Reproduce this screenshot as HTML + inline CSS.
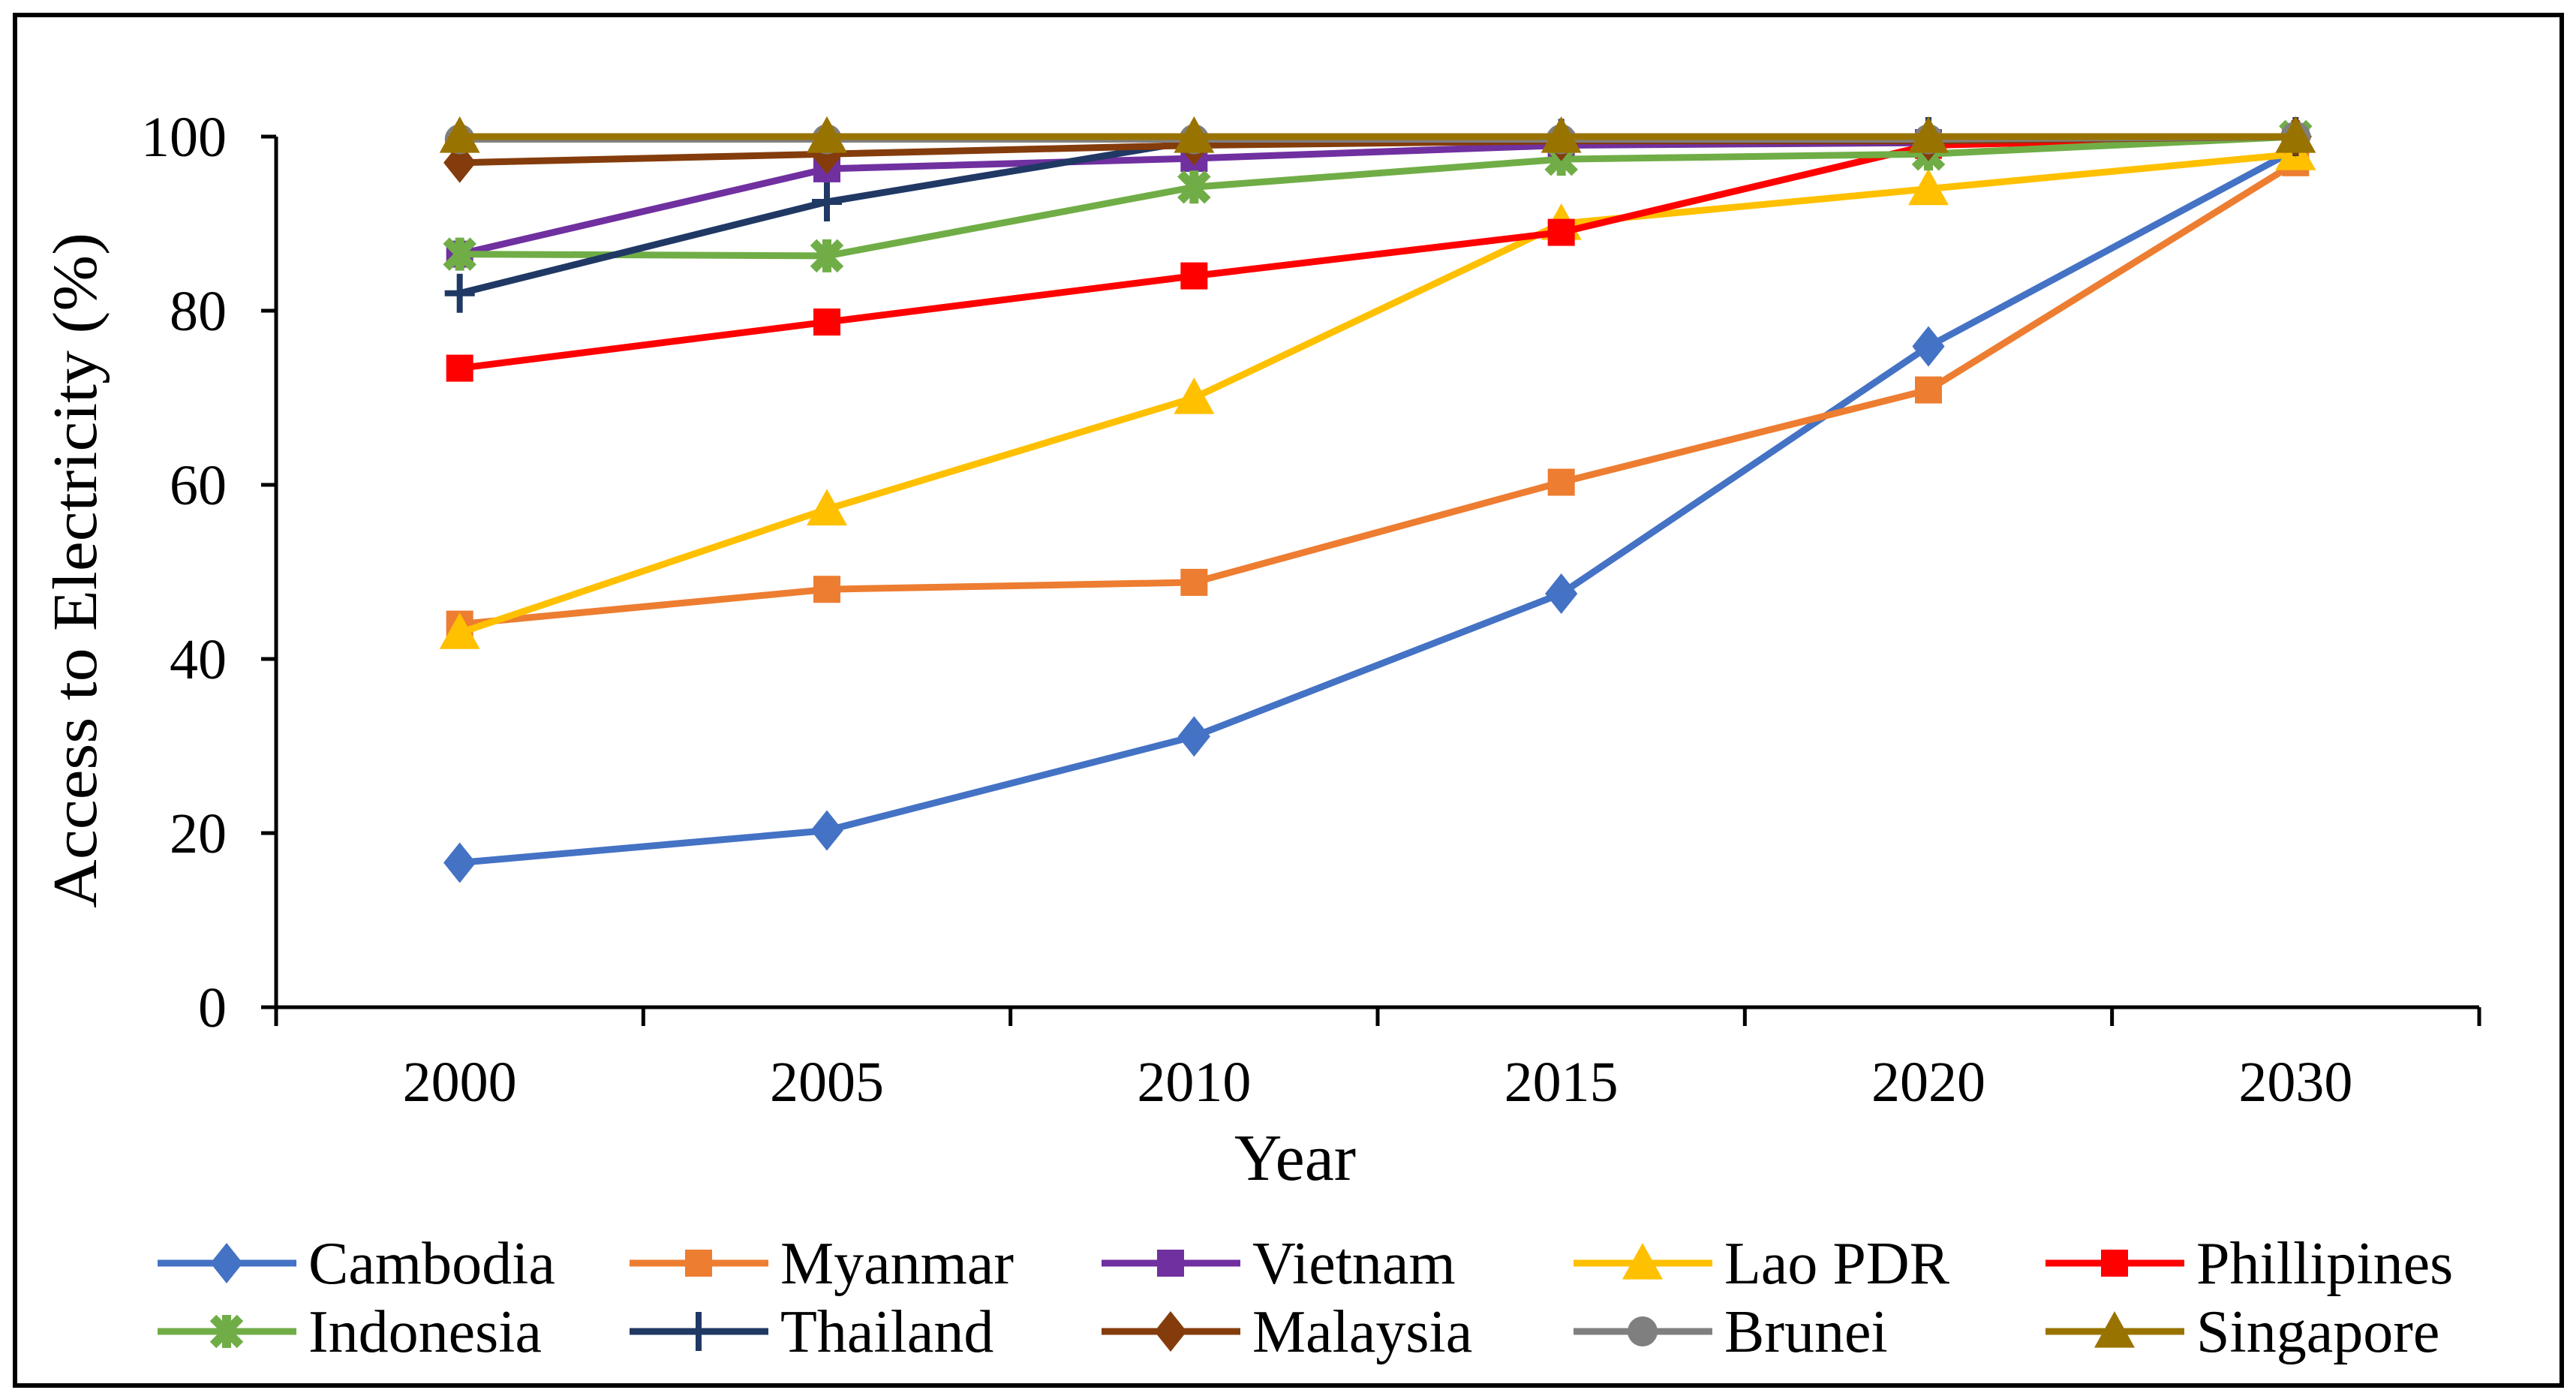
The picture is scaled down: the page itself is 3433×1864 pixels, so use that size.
<!DOCTYPE html>
<html><head><meta charset="utf-8">
<style>
html,body{margin:0;padding:0;background:#fff;}
svg{display:block;font-family:"Liberation Serif","Times New Roman",serif;}
</style></head>
<body>
<svg id="chart" width="3433" height="1864" viewBox="0 0 3433 1864" xmlns="http://www.w3.org/2000/svg">
<rect x="20" y="20" width="3394" height="1826" fill="#fff" stroke="#000" stroke-width="6"/>
<g id="axes"></g>
<g id="series"></g>
<g id="legend"></g>
<text x="1726" y="1572" font-size="88" text-anchor="middle" fill="#000">Year</text>
<text transform="translate(128,760) rotate(-90)" font-size="84" text-anchor="middle" fill="#000" textLength="900" lengthAdjust="spacingAndGlyphs">Access to Electricity (%)</text>
</svg>
<script>
const categories = ["2000","2005","2010","2015","2020","2030"];
const yTicks = [0,20,40,60,80,100];
const seriesNames = ["Cambodia","Myanmar","Vietnam","Lao PDR","Phillipines","Indonesia","Thailand","Malaysia","Brunei","Singapore"];
const cambodia   = [16.6,20.3,31.1,47.5,75.9,98.5];
const myanmar    = [44,48,48.8,60.3,70.9,97];
const vietnam    = [86.5,96.3,97.5,99,99.3,100];
const lao        = [43,57.2,70,90,94,98];
const phillipines= [73.4,78.7,84,89,99,100];
const indonesia  = [86.5,86.3,94.2,97.4,98,100];
const thailand   = [82,92.5,99.5,99.8,100,100];
const malaysia   = [97,98,99,99.5,99.5,100];
const brunei     = [99.7,99.7,99.7,99.7,99.7,100];
const singapore  = [100,100,100,100,100,100];

const values = [cambodia,myanmar,vietnam,lao,phillipines,indonesia,thailand,malaysia,brunei,singapore];
const colors = ["#4472C4","#ED7D31","#7030A0","#FFC000","#FF0000","#70AD47","#203864","#843C0C","#7F7F7F","#997300"];
const markers = ["diamond","square","square","triangle","square","star","plus","diamond","circle","triangle"];

const NS="http://www.w3.org/2000/svg";
const X0=368, X1=3304, Y0=1342, Y1=182;
const band=(X1-X0)/categories.length;
function xPos(i){return X0+band*(i+0.5);}
function yPos(v){return Y0-(v/100)*(Y0-Y1);}
function mk(tag,attrs,parent){const e=document.createElementNS(NS,tag);for(const k in attrs)e.setAttribute(k,attrs[k]);parent.appendChild(e);return e;}

const axes=document.getElementById('axes');
let yl=mk('line',{x1:X0,y1:Y0,x2:X0,y2:Y1,stroke:'#000','stroke-width':5},axes);


let xl=mk('line',{x1:X0-20,y1:Y0,x2:X1,y2:Y0,stroke:'#000','stroke-width':5},axes);


yTicks.forEach(t=>{
  const y=yPos(t);
  let tk=mk('line',{x1:X0-20,y1:y,x2:X0,y2:y,stroke:'#000','stroke-width':5},axes);
  
  
  let tx=mk('text',{x:302,y:y+26,'font-size':76,'text-anchor':'end',fill:'#000'},axes);
  tx.textContent=t;
  
  
});
for(let i=0;i<=categories.length;i++){
  const x=X0+band*i;
  let tk=mk('line',{x1:x,y1:Y0,x2:x,y2:Y0+25,stroke:'#000','stroke-width':5},axes);
  
  
}
categories.forEach((c,i)=>{
  let tx=mk('text',{x:xPos(i),y:1467,'font-size':76,'text-anchor':'middle',fill:'#000'},axes);
  tx.textContent=c;
  
  
});

function marker(type,x,y,color,parent){
  const s=27;let e;
  if(type==='diamond') e=mk('polygon',{points:`${x},${y-s} ${x+s*0.8},${y} ${x},${y+s} ${x-s*0.8},${y}`,fill:color},parent);
  else if(type==='square') e=mk('rect',{x:x-18,y:y-18,width:36,height:36,fill:color},parent);
  else if(type==='triangle') e=mk('polygon',{points:`${x},${y-s} ${x+s},${y+s*0.8} ${x-s},${y+s*0.8}`,fill:color},parent);
  else if(type==='circle') e=mk('circle',{cx:x,cy:y,r:20,fill:color},parent);
  else if(type==='plus'){e=mk('path',{d:`M${x-20},${y}H${x+20}M${x},${y-26}V${y+26}`,stroke:color,'stroke-width':8,fill:'none'},parent);}
  else if(type==='star'){e=mk('path',{d:`M${x-18},${y-18}L${x+18},${y+18}M${x+18},${y-18}L${x-18},${y+18}M${x},${y-22}V${y+22}`,stroke:color,'stroke-width':12,fill:'none'},parent);}
  return e;
}

const sg=document.getElementById('series');
values.forEach((vals,si)=>{
  const g=mk('g',{},sg);
  
  
  const pts=vals.map((v,i)=>`${xPos(i)},${yPos(v)}`).join(' ');
  let pl=mk('polyline',{points:pts,fill:'none',stroke:colors[si],'stroke-width':9,'stroke-linejoin':'round'},g);
  
  
  vals.forEach((v,i)=>{
    const m=marker(markers[si],xPos(i),yPos(v),colors[si],g);
    
    
  });
});

const lg=document.getElementById('legend');
const colX=[210,839,1468,2097,2726], rowY=[1683,1774];
seriesNames.forEach((n,i)=>{
  const cx=colX[i%5], cy=rowY[Math.floor(i/5)];
  const g=mk('g',{},lg);
  
  
  mk('line',{x1:cx,y1:cy,x2:cx+185,y2:cy,stroke:colors[i],'stroke-width':9},g);
  marker(markers[i],cx+92,cy,colors[i],g);
  let t=mk('text',{x:cx+201,y:cy+27,'font-size':80,fill:'#000'},g);
  t.textContent=n;
  
  
});
</script>
</body></html>
